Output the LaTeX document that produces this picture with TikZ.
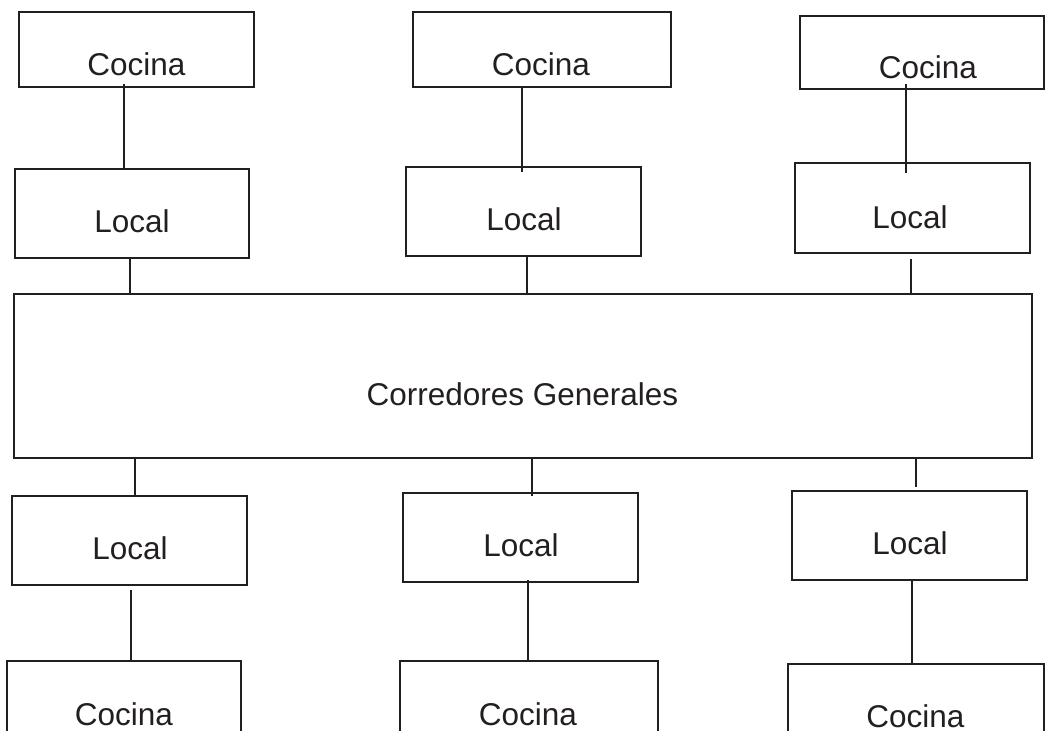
\documentclass[tikz,border=0pt]{standalone}
\usepackage{fontspec}
\setmainfont{Liberation Sans}
\definecolor{ink}{RGB}{35,31,32}
\tikzset{
  room/.style={draw=ink, line width=2.9pt, inner sep=0pt, fill=none},
  lbl/.style={anchor=base, inner sep=0pt, text=ink, font=\fontsize{31.5}{38}\selectfont},
  link/.style={draw=ink, line width=2.9pt}
}
\begin{document}
\begin{tikzpicture}[x=1pt, y=-1pt]
\useasboundingbox (0,0) rectangle (1047,731);
\clip (0,0) rectangle (1047,731);
\fill[white] (0,0) rectangle (1047,731);

% upper kitchens
\node[room, minimum width=235pt, minimum height=75pt] (c1) at (136.5,49.5) {};
\node[room, minimum width=258pt, minimum height=75pt] (c2) at (542,49.5) {};
\node[room, minimum width=244pt, minimum height=73pt] (c3) at (922,52.5) {};
\node[lbl] (c1t) at (136.5,75) {Cocina};
\node[lbl] (c2t) at (541,75) {Cocina};
\node[lbl] (c3t) at (928,78) {Cocina};

% upper shops
\node[room, minimum width=234pt, minimum height=89pt] (l1) at (132,213.5) {};
\node[room, minimum width=235pt, minimum height=89pt] (l2) at (523.5,211.5) {};
\node[room, minimum width=235pt, minimum height=90pt] (l3) at (912.5,208) {};
\node[lbl] (l1t) at (132,232) {Local};
\node[lbl] (l2t) at (524,230) {Local};
\node[lbl] (l3t) at (910,228) {Local};

% main corridor
\node[room, minimum width=1018pt, minimum height=164pt] (cor) at (523,376) {};
\node[lbl] (cort) at (522.5,405) {Corredores Generales};

% lower shops
\node[room, minimum width=235pt, minimum height=89pt] (l4) at (129.5,540.5) {};
\node[room, minimum width=235pt, minimum height=89pt] (l5) at (520.5,537.5) {};
\node[room, minimum width=235pt, minimum height=89pt] (l6) at (909.5,535.5) {};
\node[lbl] (l4t) at (130,559) {Local};
\node[lbl] (l5t) at (521,556) {Local};
\node[lbl] (l6t) at (910,554) {Local};

% lower kitchens (running off the bottom edge)
\node[room, minimum width=234pt, minimum height=90pt] (c4) at (124,706) {};
\node[room, minimum width=258pt, minimum height=90pt] (c5) at (529,706) {};
\node[room, minimum width=256pt, minimum height=90pt] (c6) at (916,709) {};
\node[lbl] (c4t) at (124,725) {Cocina};
\node[lbl] (c5t) at (528,725) {Cocina};
\node[lbl] (c6t) at (915.5,727) {Cocina};

% upper connections
\draw[link] ([xshift=-12.5pt,yshift=4pt]c1.south) -- ([xshift=-8pt]l1.north);
\draw[link] ([xshift=-2pt]l1.south) -- ([xshift=-393pt]cor.north);
\draw[link] ([xshift=-20pt]c2.south) -- ([xshift=-1.5pt,yshift=-6pt]l2.north);
\draw[link] ([xshift=3.5pt]l2.south) -- ([xshift=4pt]cor.north);
\draw[link] ([xshift=-16pt,yshift=6pt]c3.south) -- ([xshift=-6.5pt,yshift=-11pt]l3.north);
\draw[link] ([xshift=-1.5pt,yshift=-5pt]l3.south) -- ([xshift=388pt]cor.north);

% lower connections
\draw[link] ([xshift=-388pt]cor.south) -- ([xshift=5.5pt]l4.north);
\draw[link] ([xshift=1.5pt,yshift=-4pt]l4.south) -- ([xshift=7pt]c4.north);
\draw[link] ([xshift=9pt]cor.south) -- ([xshift=11.5pt,yshift=-4pt]l5.north);
\draw[link] ([xshift=7.5pt,yshift=3pt]l5.south) -- ([xshift=-1pt]c5.north);
\draw[link] ([xshift=393pt]cor.south) -- ([xshift=6.5pt,yshift=3pt]l6.north);
\draw[link] ([xshift=2.5pt]l6.south) -- ([xshift=-4pt]c6.north);
\end{tikzpicture}
\end{document}
